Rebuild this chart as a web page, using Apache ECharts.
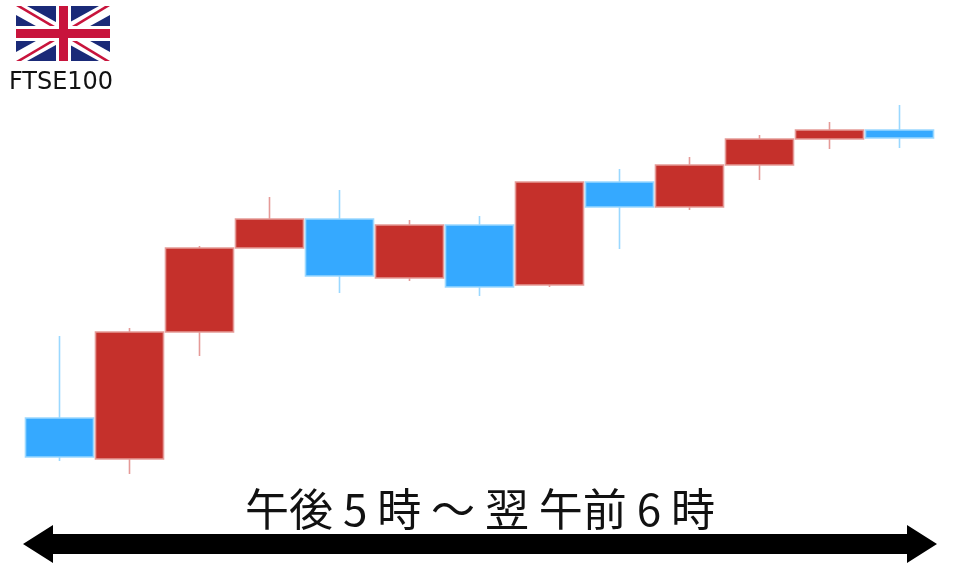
<!DOCTYPE html>
<html><head><meta charset="utf-8">
<style>html,body{margin:0;padding:0;background:#fff}#c{width:960px;height:567px}</style>
<script src="https://cdn.jsdelivr.net/npm/echarts@6/dist/echarts.min.js"></script>
</head><body><div id="c"></div>
<script>
const categories = ['1','2','3','4','5','6','7','8','9','10','11','12','13'];
const opens  = [149,108,235,319,348,289,342,282,385,360,402,428,437];
const closes = [110,235,319,348,291,342,280,385,360,402,428,437,429];
const lows   = [106,93,211,319,274,286,271,280,318,357,387,418,419];
const highs  = [231,239,321,370,377,347,351,385,398,410,432,445,462];
const titleText = '午後 5 時 ～ 翌 午前 6 時';
const indexName = 'FTSE100';
const red='#C5302B', blue='#35A9FF', redEdge='#E59A97', blueEdge='#9AD8FF';
const ohlc = categories.map((_,i)=>[opens[i],closes[i],lows[i],highs[i]]);
const poly=(points,fill)=>({type:'polygon',silent:true,shape:{points},style:{fill}});
const flag=[
 {type:'rect',silent:true,shape:{x:16,y:6,width:94,height:55},style:{fill:'#1A2A78'}},
 poly([[16,6],[27,6],[110,52],[110,61],[99,61],[16,15]],'#fff'),
 poly([[110,6],[99,6],[16,52],[16,61],[27,61],[110,15]],'#fff'),
 poly([[16,6],[21,6],[60,29],[55,29]],'#C8143C'),
 poly([[110,61],[105,61],[67,38],[72,38]],'#C8143C'),
 poly([[110,6],[105,6],[67,29],[72,29]],'#C8143C'),
 poly([[16,61],[21,61],[60,38],[55,38]],'#C8143C'),
 {type:'rect',silent:true,shape:{x:56,y:6,width:15,height:55},style:{fill:'#fff'}},
 {type:'rect',silent:true,shape:{x:16,y:26,width:94,height:15},style:{fill:'#fff'}},
 {type:'rect',silent:true,shape:{x:59,y:6,width:9,height:55},style:{fill:'#C8143C'}},
 {type:'rect',silent:true,shape:{x:16,y:29,width:94,height:9},style:{fill:'#C8143C'}}
];
const chart=echarts.init(document.getElementById('c'),null,{renderer:'canvas'});
chart.setOption({
 animation:false,
 backgroundColor:'#fff',
 grid:{left:24.5,width:910,top:0,height:567},
 xAxis:{type:'category',data:categories,show:false,boundaryGap:true},
 yAxis:{type:'value',min:0,max:567,show:false,splitLine:{show:false}},
 series:[{type:'candlestick',data:ohlc,barWidth:68.5,
  itemStyle:{color:red,color0:blue,borderColor:redEdge,borderColor0:blueEdge,borderWidth:1.6}}],
 graphic:[...flag,
  {type:'text',silent:true,style:{x:61,y:83,text:indexName,fill:'#111',font:'24px "DejaVu Sans"',align:'center',verticalAlign:'middle'}},
  {type:'text',silent:true,style:{x:480,y:509,text:titleText,fill:'#111',font:'44px "Noto Sans CJK JP"',align:'center',verticalAlign:'middle'}},
  poly([[23,544],[53,525],[53,534],[907,534],[907,525],[937,544],[907,563],[907,554],[53,554],[53,563]],'#000')
 ]
});
</script></body></html>
